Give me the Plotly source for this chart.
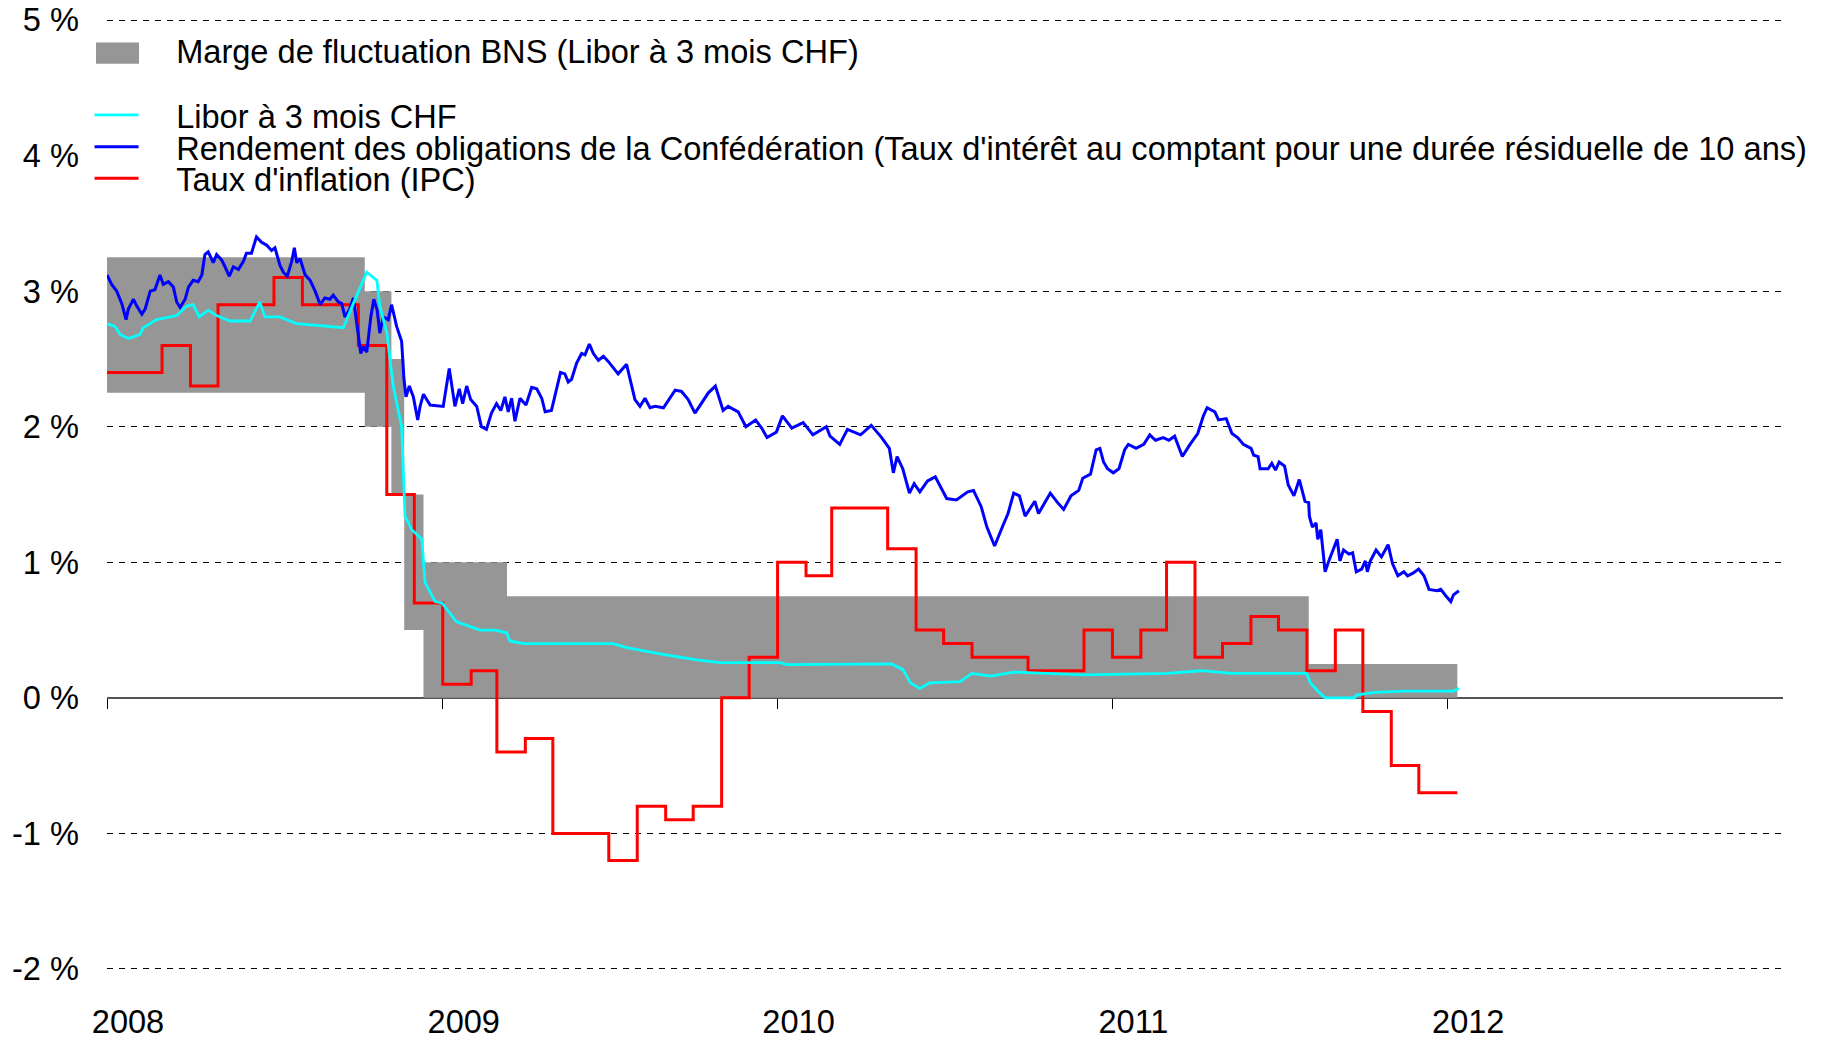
import plotly.graph_objects as go
import pandas as pd

FONT = "Liberation Sans, Arial, sans-serif"
FS = 32.6

# ---------------- data ----------------
# SNB target range for 3M CHF Libor (step changes)
band_dates = ["2008-01-01", "2008-10-08", "2008-11-06", "2008-11-20",
              "2008-12-11", "2009-03-12", "2011-08-03", "2012-01-12"]
band_low = [2.25, 2.00, 1.50, 0.50, 0.00, 0.00, 0.00, 0.00]
band_high = [3.25, 3.00, 2.50, 1.50, 1.00, 0.75, 0.25, 0.25]

# CPI inflation, monthly (Jan 2008 .. Dec 2011), shown until data end
cpi_start = "2008-01-01"
cpi_end = "2012-01-12"
cpi_values = [2.4, 2.4, 2.6, 2.3, 2.9, 2.9, 3.1, 2.9, 2.9, 2.6, 1.5, 0.7,
              0.1, 0.2, -0.4, -0.3, -1.0, -1.0, -1.2, -0.8, -0.9, -0.8, 0.0, 0.3,
              1.0, 0.9, 1.4, 1.4, 1.1, 0.5, 0.4, 0.3, 0.3, 0.2, 0.2, 0.5,
              0.3, 0.5, 1.0, 0.3, 0.4, 0.6, 0.5, 0.2, 0.5, -0.1, -0.5, -0.7]

# 3M CHF Libor: time in years since 2008-01-01, value in %
libor_t = [0.000, 0.024, 0.039, 0.064, 0.098, 0.108, 0.148, 0.208, 0.238, 0.257,
           0.275, 0.302, 0.327, 0.367, 0.427, 0.456, 0.471, 0.516, 0.566, 0.675,
           0.705, 0.735, 0.775, 0.795, 0.805, 0.814, 0.835, 0.854, 0.879, 0.889,
           0.909, 0.939, 0.949, 0.979, 0.999, 1.043, 1.113, 1.158, 1.192, 1.202,
           1.242, 1.510, 1.550, 1.659, 1.759, 1.829, 2.008, 2.028, 2.340, 2.374,
           2.397, 2.425, 2.454, 2.545, 2.580, 2.637, 2.705, 2.911, 3.162, 3.265,
           3.356, 3.579, 3.590, 3.612, 3.634, 3.722, 3.727, 3.782, 3.869, 4.017,
           4.033]
libor_v = [2.76, 2.74, 2.68, 2.65, 2.68, 2.73, 2.79, 2.82, 2.89, 2.90,
           2.81, 2.86, 2.82, 2.78, 2.78, 2.92, 2.81, 2.81, 2.76, 2.74,
           2.73, 2.91, 3.14, 3.10, 3.08, 2.89, 2.69, 2.30, 2.00, 1.34,
           1.24, 1.17, 0.85, 0.71, 0.70, 0.56, 0.50, 0.50, 0.48, 0.42,
           0.40, 0.40, 0.37, 0.32, 0.28, 0.26, 0.26, 0.245, 0.25, 0.21,
           0.11, 0.07, 0.11, 0.12, 0.18, 0.16, 0.19, 0.17, 0.18, 0.20,
           0.18, 0.18, 0.11, 0.05, 0.00, 0.00, 0.02, 0.04, 0.05, 0.05,
           0.07]

# 10-year Confederation bond yield: time in years since 2008-01-01, value in %
bond_t = [0.000, 0.014, 0.029, 0.044, 0.057, 0.064, 0.079, 0.089, 0.104, 0.114,
          0.129, 0.143, 0.158, 0.168, 0.183, 0.198, 0.208, 0.218, 0.233, 0.243,
          0.257, 0.272, 0.283, 0.292, 0.302, 0.317, 0.327, 0.342, 0.352, 0.365,
          0.377, 0.392, 0.407, 0.416, 0.431, 0.446, 0.461, 0.476, 0.491, 0.501,
          0.516, 0.526, 0.538, 0.551, 0.559, 0.566, 0.576, 0.591, 0.606, 0.621,
          0.636, 0.650, 0.665, 0.675, 0.690, 0.700, 0.710, 0.723, 0.735, 0.743,
          0.750, 0.757, 0.765, 0.775, 0.787, 0.796, 0.806, 0.814, 0.824, 0.839,
          0.849, 0.864, 0.879, 0.886, 0.892, 0.902, 0.914, 0.927, 0.934, 0.944,
          0.964, 1.003, 1.021, 1.038, 1.051, 1.061, 1.073, 1.085, 1.103, 1.117,
          1.132, 1.147, 1.162, 1.175, 1.187, 1.197, 1.207, 1.217, 1.232, 1.250,
          1.267, 1.282, 1.297, 1.307, 1.326, 1.336, 1.353, 1.366, 1.376, 1.386,
          1.401, 1.416, 1.426, 1.439, 1.451, 1.466, 1.481, 1.496, 1.510, 1.525,
          1.550, 1.560, 1.575, 1.590, 1.605, 1.620, 1.635, 1.660, 1.680, 1.695,
          1.714, 1.734, 1.754, 1.774, 1.794, 1.815, 1.838, 1.853, 1.883, 1.906,
          1.935, 1.953, 1.969, 1.997, 2.015, 2.043, 2.077, 2.106, 2.146, 2.157,
          2.186, 2.209, 2.248, 2.280, 2.311, 2.334, 2.346, 2.357, 2.374, 2.394,
          2.408, 2.425, 2.448, 2.471, 2.488, 2.505, 2.534, 2.568, 2.585, 2.608,
          2.625, 2.648, 2.671, 2.688, 2.705, 2.722, 2.739, 2.768, 2.779, 2.814,
          2.836, 2.854, 2.876, 2.899, 2.911, 2.934, 2.951, 2.962, 2.973, 2.985,
          3.002, 3.019, 3.036, 3.047, 3.070, 3.093, 3.111, 3.128, 3.151, 3.168,
          3.185, 3.208, 3.231, 3.254, 3.271, 3.282, 3.305, 3.316, 3.339, 3.356,
          3.373, 3.390, 3.413, 3.421, 3.434, 3.440, 3.464, 3.475, 3.486, 3.497,
          3.513, 3.524, 3.541, 3.557, 3.574, 3.585, 3.587, 3.596, 3.607, 3.612,
          3.621, 3.629, 3.634, 3.645, 3.656, 3.670, 3.678, 3.689, 3.705, 3.716,
          3.727, 3.743, 3.754, 3.760, 3.769, 3.786, 3.802, 3.822, 3.835, 3.851,
          3.869, 3.880, 3.896, 3.913, 3.929, 3.944, 3.968, 3.979, 3.995, 4.009,
          4.017, 4.033]
bond_v = [3.12, 3.05, 3.00, 2.91, 2.79, 2.87, 2.94, 2.89, 2.83, 2.87,
          3.00, 3.01, 3.12, 3.05, 3.07, 3.03, 2.92, 2.88, 2.94, 3.03,
          3.08, 3.07, 3.12, 3.27, 3.29, 3.21, 3.27, 3.23, 3.18, 3.11,
          3.18, 3.16, 3.22, 3.28, 3.28, 3.40, 3.36, 3.34, 3.30, 3.32,
          3.19, 3.14, 3.11, 3.22, 3.32, 3.21, 3.24, 3.12, 3.08, 3.00,
          2.90, 2.95, 2.94, 2.97, 2.92, 2.91, 2.81, 2.86, 2.95, 2.79,
          2.64, 2.54, 2.59, 2.55, 2.81, 2.94, 2.86, 2.69, 2.81, 2.79,
          2.90, 2.74, 2.63, 2.35, 2.22, 2.30, 2.22, 2.05, 2.15, 2.24,
          2.16, 2.15, 2.43, 2.15, 2.28, 2.17, 2.30, 2.20, 2.15, 2.00,
          1.98, 2.10, 2.17, 2.12, 2.22, 2.11, 2.21, 2.04, 2.21, 2.16,
          2.29, 2.28, 2.21, 2.11, 2.12, 2.22, 2.40, 2.39, 2.33, 2.35,
          2.47, 2.54, 2.53, 2.61, 2.54, 2.49, 2.52, 2.48, 2.44, 2.39,
          2.46, 2.35, 2.20, 2.15, 2.21, 2.14, 2.15, 2.14, 2.22, 2.27,
          2.26, 2.20, 2.10, 2.17, 2.25, 2.30, 2.12, 2.15, 2.11, 2.00,
          2.05, 1.99, 1.92, 1.96, 2.08, 1.99, 2.03, 1.94, 2.00, 1.93,
          1.87, 1.98, 1.94, 2.01, 1.92, 1.84, 1.66, 1.78, 1.69, 1.51,
          1.58, 1.52, 1.60, 1.63, 1.55, 1.47, 1.46, 1.52, 1.53, 1.41,
          1.26, 1.12, 1.26, 1.36, 1.51, 1.49, 1.34, 1.45, 1.36, 1.51,
          1.44, 1.39, 1.49, 1.53, 1.62, 1.65, 1.83, 1.84, 1.74, 1.69,
          1.66, 1.69, 1.83, 1.87, 1.84, 1.87, 1.94, 1.90, 1.92, 1.90,
          1.93, 1.78, 1.87, 1.95, 2.08, 2.14, 2.11, 2.05, 2.06, 1.95,
          1.92, 1.87, 1.84, 1.79, 1.78, 1.69, 1.69, 1.73, 1.68, 1.74,
          1.71, 1.57, 1.49, 1.61, 1.45, 1.44, 1.34, 1.26, 1.29, 1.17,
          1.24, 1.07, 0.93, 1.01, 1.08, 1.17, 1.01, 1.09, 1.06, 1.07,
          0.93, 0.95, 1.01, 0.93, 1.01, 1.09, 1.04, 1.13, 0.99, 0.90,
          0.93, 0.90, 0.92, 0.95, 0.90, 0.80, 0.79, 0.80, 0.75, 0.71,
          0.76, 0.79]

year_ticks = ["2008-01-01", "2009-01-01", "2010-01-01", "2011-01-01", "2012-01-01"]
year_labels = ["2008", "2009", "2010", "2011", "2012"]
y_ticks = [5, 4, 3, 2, 1, 0, -1, -2]
y_labels = ["5 %", "4 %", "3 %", "2 %", "1 %", "0 %", "-1 %", "-2 %"]

names = {
    "band": "Marge de fluctuation BNS (Libor à 3 mois CHF)",
    "libor": "Libor à 3 mois CHF",
    "bond": "Rendement des obligations de la Confédération (Taux d'intérêt au comptant pour une durée résiduelle de 10 ans)",
    "cpi": "Taux d'inflation (IPC)",
}

# ---------------- helpers ----------------
BASE = pd.Timestamp("2008-01-01")


def years_to_dates(ts):
    return [(BASE + pd.Timedelta(days=t * 365.4)).round("h") for t in ts]


cpi_x = list(pd.date_range(cpi_start, periods=len(cpi_values), freq="MS")) + [pd.Timestamp(cpi_end)]
cpi_y = cpi_values + [cpi_values[-1]]

GRAY = "#969696"
Y_MIN, Y_MAX = -2.015, 5.015
X_RANGE = ["2008-01-01", "2013-01-01"]

fig = go.Figure()

# band (lower bound invisible, upper filled down to it)
fig.add_trace(go.Scatter(x=band_dates, y=band_low, mode="lines", line=dict(width=0, shape="hv", color=GRAY),
                         showlegend=False, hoverinfo="skip"))
fig.add_trace(go.Scatter(x=band_dates, y=band_high, mode="lines", line=dict(width=0, shape="hv", color=GRAY),
                         fill="tonexty", fillcolor=GRAY, showlegend=False, hoverinfo="skip"))

fig.add_trace(go.Scatter(x=cpi_x, y=cpi_y, mode="lines", line=dict(color="#FF0000", width=3, shape="hv"),
                         name="\u2003" + names["cpi"], legend="legend4"))
fig.add_trace(go.Scatter(x=years_to_dates(bond_t), y=bond_v, mode="lines", line=dict(color="#0000FF", width=3),
                         name="\u2003" + names["bond"], legend="legend3"))
fig.add_trace(go.Scatter(x=years_to_dates(libor_t), y=libor_v, mode="lines", line=dict(color="#00FFFF", width=2.8),
                         name="\u2003" + names["libor"], legend="legend2"))
# legend entry for the band (its swatch is drawn as a shape below)
fig.add_trace(go.Scatter(x=[None], y=[None], mode="lines", line=dict(color="rgba(0,0,0,0)", width=0),
                         name="\u2003" + names["band"], legend="legend"))

# ---------------- layout ----------------
W, H = 1825, 1037
ML, MR, MT, MB = 99, 50, 9.8, 73.5
plot_w = W - ML - MR
plot_h = H - MT - MB


def ypaper(py):
    return (H - MB - py) / plot_h


def xpaper(px):
    return (px - ML) / plot_w


leg = dict(font=dict(family=FONT, size=FS, color="black"), bgcolor="rgba(0,0,0,0)", borderwidth=0,
           itemwidth=44, xanchor="left", yanchor="middle", x=-0.0104, itemclick=False, itemdoubleclick=False)

fig.update_layout(
    width=W, height=H,
    margin=dict(l=ML, r=MR, t=MT, b=MB, pad=0),
    paper_bgcolor="white", plot_bgcolor="white",
    font=dict(family=FONT, size=FS, color="black"),
    template="none",
    legend=dict(leg, y=ypaper(42.5)),
    legend2=dict(leg, y=ypaper(107)),
    legend3=dict(leg, y=ypaper(139)),
    legend4=dict(leg, y=ypaper(170.5)),
    xaxis=dict(
        type="date", range=X_RANGE, anchor="free", position=(0 - Y_MIN) / (Y_MAX - Y_MIN),
        showgrid=False, zeroline=False, layer="below traces",
        showline=True, linecolor="#555555", linewidth=1.5,
        ticks="outside", ticklen=10, tickwidth=1, tickcolor="black",
        tickmode="array", tickvals=year_ticks, ticktext=year_labels,
        tickfont=dict(family=FONT, size=FS, color="black"),
        ticklabelstandoff=285, ticklabelshift=21, ticklabeloverflow="allow", automargin=False,
    ),
    yaxis=dict(
        range=[Y_MIN, Y_MAX], showgrid=True, gridcolor="black", gridwidth=1, griddash="6px,6px",
        zeroline=False, showline=False, ticks="",
        tickmode="array", tickvals=y_ticks, ticktext=y_labels,
        tickfont=dict(family=FONT, size=FS, color="black"),
        ticklabelstandoff=27, ticklabeloverflow="allow", automargin=False,
    ),
    shapes=[
        # white legend background hiding the grid line behind the legend text
        dict(type="rect", xref="paper", yref="y", x0=0, x1=1, y0=3.9, y1=4.1,
             fillcolor="white", line=dict(width=0), layer="above"),
        # legend swatch for the fluctuation band
        dict(type="rect", xref="paper", yref="paper",
             x0=xpaper(88), x1=xpaper(131), y0=ypaper(55.7), y1=ypaper(34.3),
             fillcolor=GRAY, line=dict(width=0), layer="above"),
    ],
    showlegend=True,
    hovermode=False,
)

fig.write_html("out.html")
